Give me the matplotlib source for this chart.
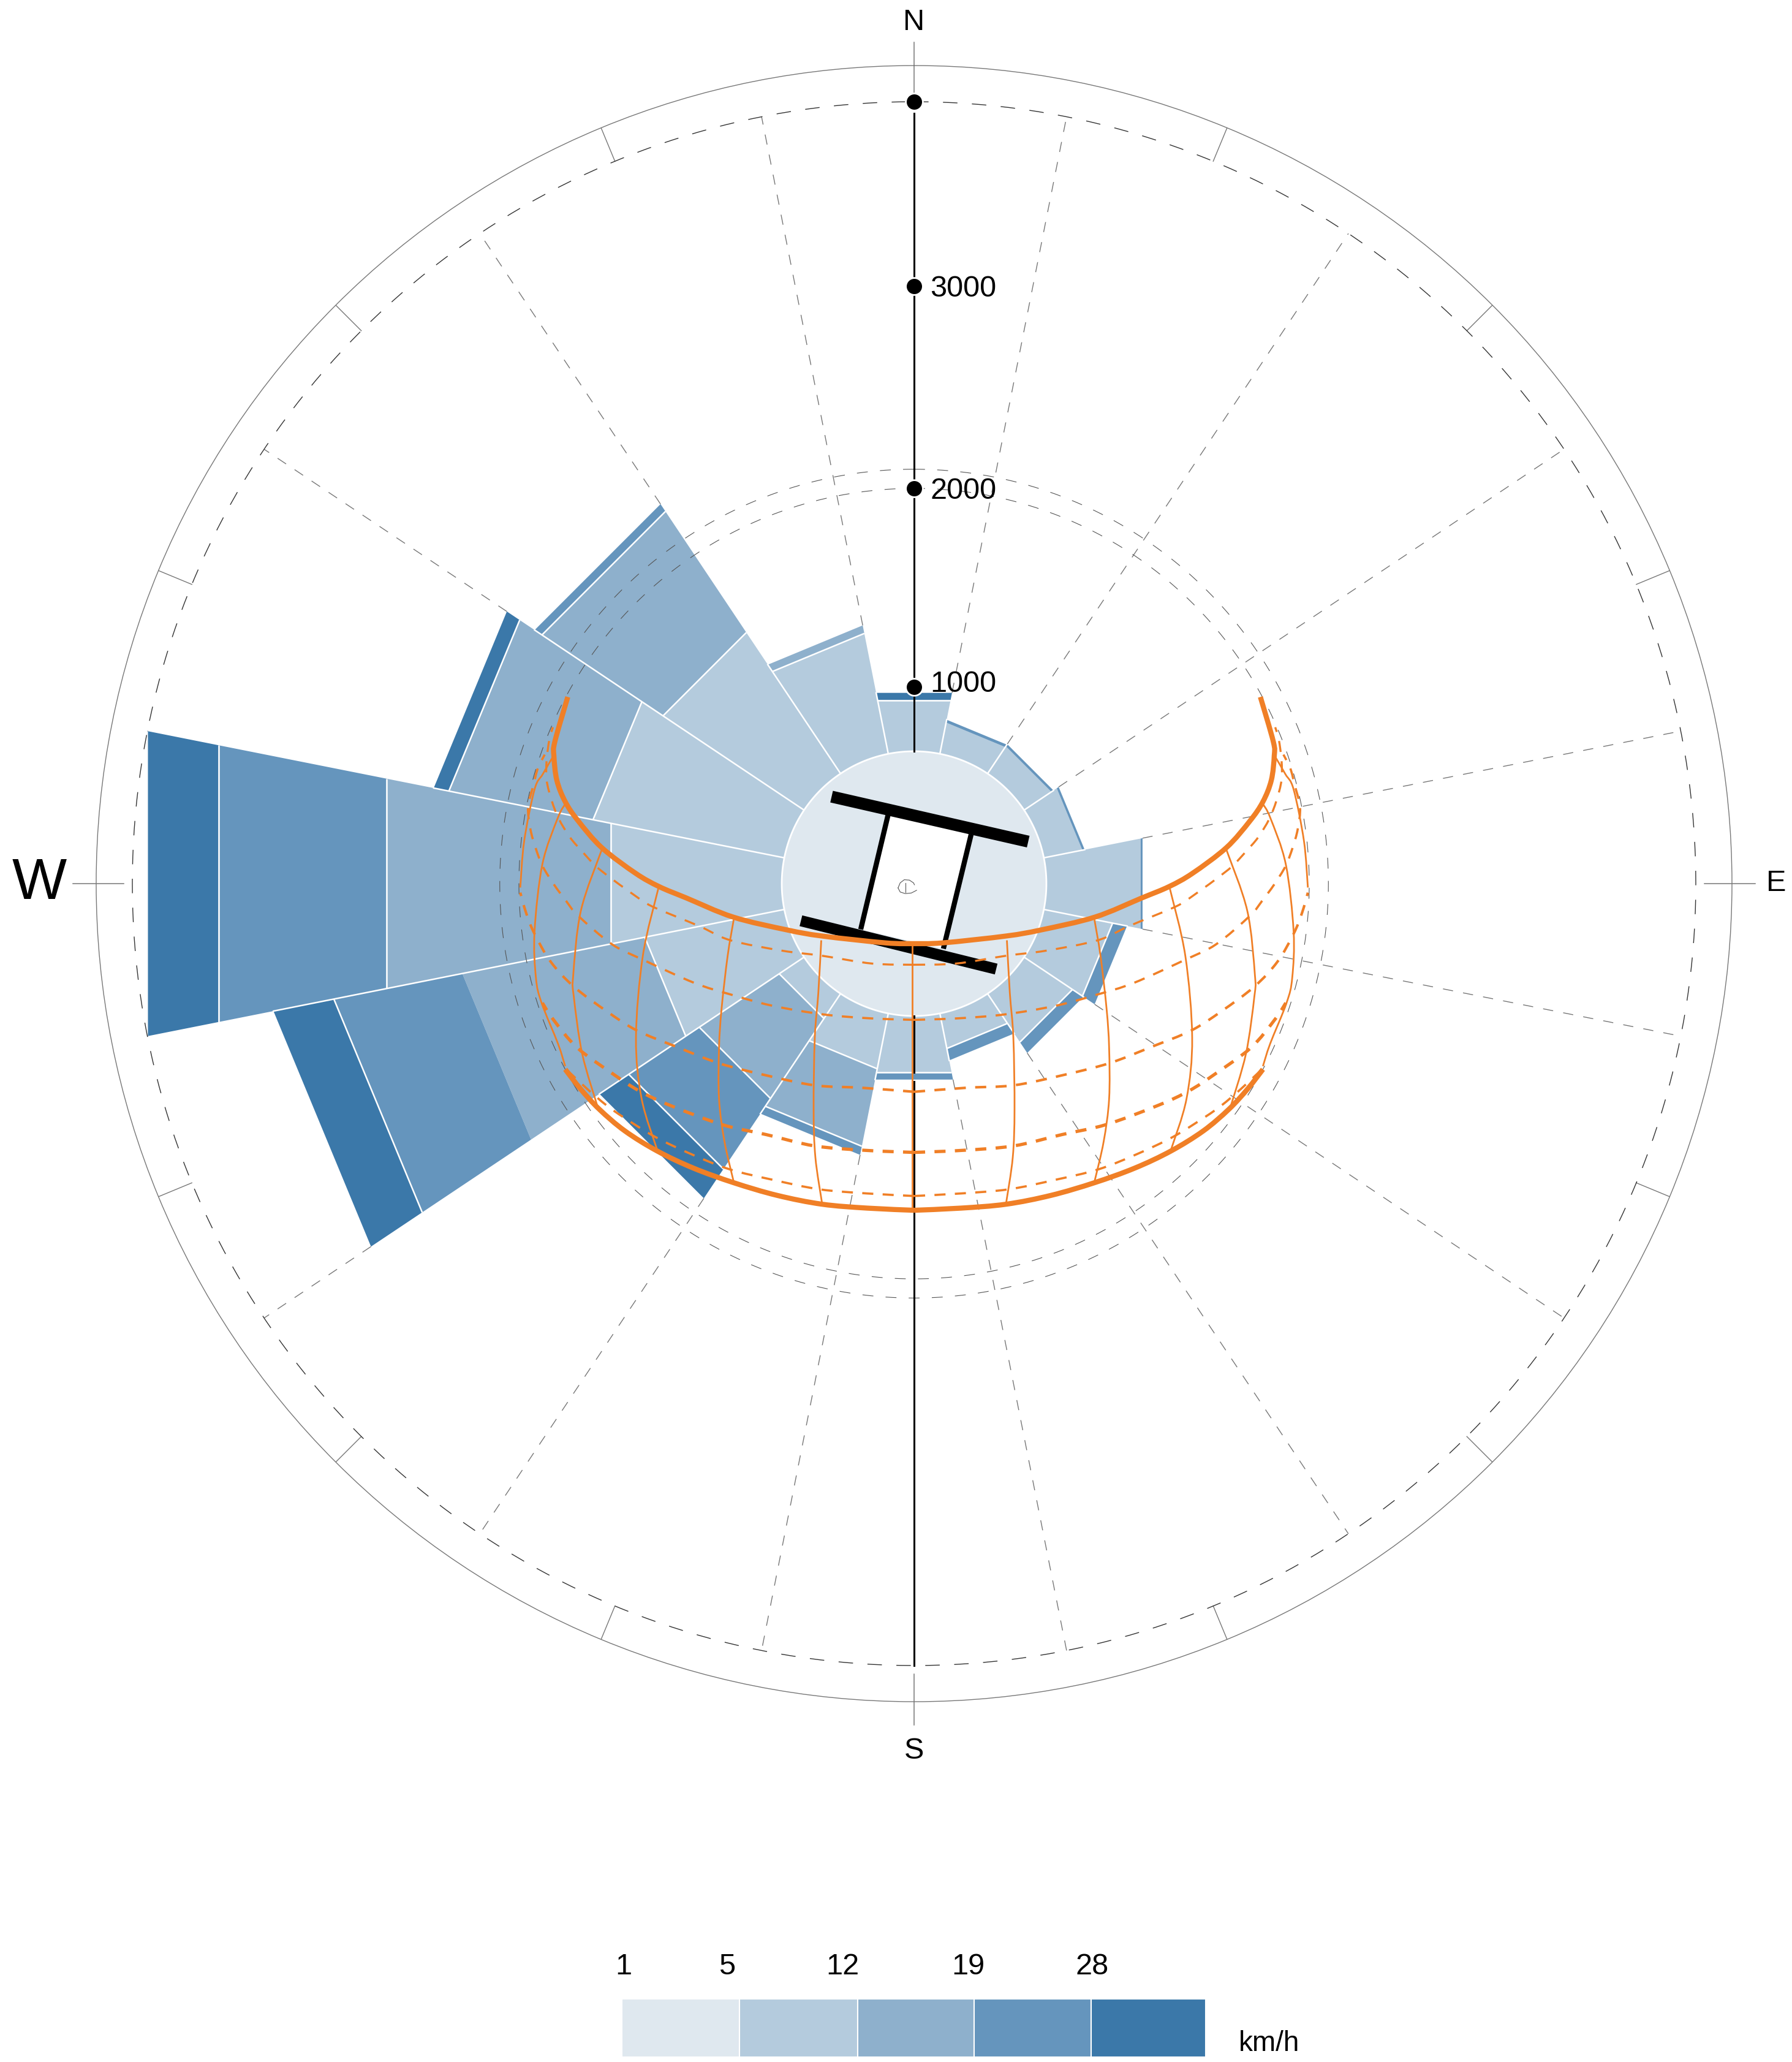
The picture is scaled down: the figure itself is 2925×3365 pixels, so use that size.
import numpy as np
from matplotlib import pyplot as plt
from matplotlib.path import Path
from matplotlib.patches import PathPatch

plt.rcParams['font.family'] = ['Liberation Sans', 'DejaVu Sans']

# wind rose, clockwise from north, length of each speed band per direction
band_1 = [957, 840, 845, 878, 1182, 1036, 975, 860, 985, 966, 830, 1405, 1583, 1675, 1545, 1305]
band_2 = [0, 0, 0, 0, 0, 0, 0, 0, 0, 404, 492, 952, 1170, 752, 745, 42]
band_3 = [0, 15, 13, 12, 10, 75, 67, 62, 37, 45, 434, 670, 876, 0, 45, 0]
band_4 = [38, 0, 0, 0, 0, 0, 0, 0, 0, 0, 180, 315, 368, 79, 0, 0]
calm_radius = 677

colors = ['#dfe8ef', '#b4cbdd', '#8eb0cc', '#6595bd', '#3b78a9']
speed_labels = ['1', '5', '12', '19', '28']
speed_unit = 'km/h'

radial_labels = ['1000', '2000', '3000']
radial_pos = [1006, 2022, 3056]
outer_ring = 4000
rings = [2022, 2120]

# sun path diagram, east half (east, north), the west half mirrors it
sun_top = [(0, -307), (148, -303), (471, -268), (649, -237), (926, -171), (1166, -73), (1305, -15),
           (1425, 53), (1598, 184), (1718, 320), (1785, 419), (1828, 529), (1843, 654), (1838, 727),
           (1772, 955)]
sun_bottom = [(0, -1671), (240, -1660), (471, -1640), (700, -1595), (923, -1530), (1130, -1455),
              (1314, -1368), (1480, -1265), (1611, -1154), (1707, -1050), (1785, -950)]
parallel_1 = [(0, -415), (214, -409), (471, -369), (675, -343), (939, -290), (1098, -218), (1322, -125),
              (1389, -88), (1472, -30), (1550, 27), (1629, 90), (1697, 163), (1760, 236), (1817, 330),
              (1854, 424), (1880, 529), (1880, 633), (1866, 738), (1848, 800)]
parallel_2 = [(0, -697), (227, -689), (464, -669), (728, -624), (939, -567), (1124, -508), (1388, -389),
              (1546, -310), (1718, -165), (1781, -88), (1843, -4), (1901, 90), (1937, 184), (1963, 278),
              (1975, 390), (1948, 503), (1925, 590), (1890, 660)]
parallel_3 = [(0, -1065), (273, -1044), (508, -1032), (756, -981), (998, -919), (1215, -835), (1419, -751),
              (1574, -652), (1741, -527), (1859, -400), (1942, -257), (1985, -150), (2015, -46)]
parallel_4 = [(0, -1375), (240, -1365), (508, -1342), (756, -1284), (985, -1232), (1252, -1133),
              (1407, -1060), (1537, -976), (1723, -840), (1847, -694), (1902, -610)]
parallel_5 = [(0, -1598), (240, -1585), (483, -1564), (719, -1516), (942, -1462), (1140, -1384),
              (1326, -1295), (1487, -1195), (1574, -1134), (1673, -1050), (1785, -945)]
meridian_0 = [(-10, -307), (-10, -1671)]
meridian_1 = [(475, -290), (490, -560), (508, -788), (514, -1154), (505, -1400), (471, -1634)]
meridian_2 = [(923, -185), (954, -370), (985, -640), (998, -840), (998, -1101), (970, -1320), (923, -1525)]
meridian_3 = [(1309, -26), (1388, -370), (1423, -788), (1394, -1101), (1314, -1363)]
meridian_4 = [(1599, 171), (1705, -139), (1744, -468), (1741, -579), (1698, -871), (1617, -1149)]
meridian_5 = [(1784, 409), (1823, 336), (1902, 99), (1942, -244), (1935, -481), (1906, -610), (1822, -819), (1785, -934)]
meridian_6 = [(1845, 654), (1900, 560), (1942, 482), (1995, 218), (2015, -20)]

# building plan, (east, north) ends
wall_top = [(-422, 445), (584, 215)]
wall_bottom = [(-579, -190), (420, -437)]
leg_left = [(-132, 356), (-273, -234)]
leg_right = [(292, 252), (150, -333)]
figure_marks = [[(-82, -22), (-71, 4), (-50, 20), (-24, 18), (-3, 4), (2, -6)],
                [(-82, -22), (-71, -43), (-45, -51), (-14, -48), (13, -34)],
                [(-45, 4), (-45, -43)]]


def to_polar(points, mirror=False):
    pts = np.array(points, dtype=float)
    e = -pts[:, 0] if mirror else pts[:, 0]
    return np.arctan2(e, pts[:, 1]), np.hypot(pts[:, 0], pts[:, 1])


def smooth_curve(ax, points, mirror, **kw):
    # bezier through the read points so the sun lines are not faceted
    pts = np.array(points, dtype=float)
    if mirror:
        pts[:, 0] = -pts[:, 0]
    verts = [pts[0]]
    codes = [Path.MOVETO]
    n = len(pts)
    for i in range(n - 1):
        p0 = pts[max(i - 1, 0)]
        p1 = pts[i]
        p2 = pts[i + 1]
        p3 = pts[min(i + 2, n - 1)]
        verts += [p1 + (p2 - p0) / 6, p2 - (p3 - p1) / 6, p2]
        codes += [Path.CURVE4] * 3
    verts = np.array(verts)
    polar = np.column_stack([np.arctan2(verts[:, 0], verts[:, 1]), np.hypot(verts[:, 0], verts[:, 1])])
    ax.add_patch(PathPatch(Path(polar, codes), fill=False, **kw))


W, H = 2925, 3365
fig = plt.figure(figsize=(W / 100, H / 100), dpi=100)
ax = fig.add_axes([157 / W, 1 - 2777 / H, 2670 / W, 2670 / H], projection='polar')
rmax = 4185
ax.set_theta_zero_location('N')
ax.set_theta_direction(-1)
ax.set_ylim(0, rmax)
ax.set_autoscale_on(False)
ax.grid(False)
ax.set_xticks([])
ax.set_yticks([])
ax.spines['polar'].set_color('#777777')
ax.spines['polar'].set_linewidth(1.0)

# wedges, white lines go on afterwards
step = np.deg2rad(22.5)
bands = np.array([band_1, band_2, band_3, band_4], dtype=float)
tops = bands.cumsum(axis=0)
totals = tops[-1]
for d in range(16):
    t0 = d * step - step / 2
    t1 = d * step + step / 2
    bottom = 0
    for b in range(4):
        if bands[b, d] == 0:
            continue
        ax.fill([t0, t1, t1, t0], [bottom, bottom, tops[b, d], tops[b, d]], facecolor=colors[b + 1],
                edgecolor='none', zorder=2)
        # no white line under a thin strip, nor inside the WSW wedge at 19
        above = bands[b + 1:, d]
        above = above[above > 0]
        if len(above) > 0 and above[0] >= 25 and not (d == 11 and b == 1):
            ax.plot([t0, t1], [tops[b, d], tops[b, d]], color='white', lw=1.8, solid_capstyle='butt', zorder=2.5)
        bottom = tops[b, d]
    side = min(totals[d], totals[(d + 1) % 16])
    ax.plot([t1, t1], [0, side], color='white', lw=1.8, zorder=2.5)

# spokes between sectors, from the taller neighbour out to the ring
for d in range(16):
    start = max(totals[d], totals[(d + 1) % 16])
    t = d * step + step / 2
    ax.plot([t, t], [start, outer_ring], color='#777777', lw=1.0, ls=(0, (12, 12)), zorder=1)

# sector ticks on the rim
for d in range(16):
    t = d * step
    if d % 4 == 0:
        ax.plot([t, t], [4045, 4305], color='#777777', lw=1.1, clip_on=False, zorder=1)
    else:
        ax.plot([t, t], [outer_ring, rmax], color='#777777', lw=1.0, zorder=1)

circle = np.linspace(0, 2 * np.pi, 721)
ax.plot(circle, np.full(721, outer_ring), color='#333333', lw=1.0, ls=(0, (17, 17)), zorder=3)
for r in rings:
    ax.plot(circle, np.full(721, r), color='#555555', lw=0.8, ls=(0, (16, 18)), zorder=3)

# calm circle and building
ax.fill(circle, np.full(721, calm_radius), facecolor=colors[0], edgecolor='white', linewidth=2, zorder=4)
corners = [leg_left[0], leg_right[0], leg_right[1], leg_left[1]]
t, r = to_polar(corners)
ax.fill(t, r, facecolor='white', edgecolor='none', zorder=5)
for wall, width in [(wall_top, 14), (wall_bottom, 13), (leg_left, 6), (leg_right, 6)]:
    t, r = to_polar(wall)
    ax.plot(t, r, color='black', lw=width, solid_capstyle='butt', zorder=6)
for mark in figure_marks:
    t, r = to_polar(mark)
    ax.plot(t, r, color='#555555', lw=0.8, zorder=6)

# north-south axis
ax.plot([0, 0], [calm_radius, 3940], color='black', lw=2.2, zorder=7)
ax.plot([np.pi, np.pi], [calm_radius, 965], color='black', lw=2.2, zorder=7)
ax.plot([np.pi, np.pi], [1012, outer_ring], color='black', lw=2.2, zorder=7)
ax.plot(np.zeros(len(radial_pos) + 1), radial_pos + [outer_ring], 'o', color='black', ms=20,
        markeredgecolor='white', markeredgewidth=2, zorder=8)
for lab, r, dy in zip(radial_labels, radial_pos, [3, -3, -3]):
    ax.annotate(lab, xy=(0, r), xytext=(19, dy), textcoords='offset points', fontsize=35, va='center', zorder=9)

ax.text(0, 4405, 'N', fontsize=35, ha='center', va='center', clip_on=False)
ax.text(np.pi, 4437, 'S', fontsize=35, ha='center', va='center', clip_on=False)
ax.text(np.pi / 2, 4412, 'E', fontsize=35, ha='center', va='center', clip_on=False)
ax.text(3 * np.pi / 2, 4476, 'W', fontsize=68, ha='center', va='center', clip_on=False)

# sun path
orange = '#f07f26'
for curve in [sun_top, sun_bottom]:
    for m in (False, True):
        smooth_curve(ax, curve, m, edgecolor=orange, lw=6, capstyle='butt', zorder=10)
for curve, width in [(parallel_1, 2.4), (parallel_2, 2.6), (parallel_3, 3.0), (parallel_4, 3.8), (parallel_5, 2.6)]:
    for m in (False, True):
        smooth_curve(ax, curve, m, edgecolor=orange, lw=width, ls=(0, (13 / width, 11 / width)), zorder=9)
t, r = to_polar(meridian_0)
ax.plot(t, r, color=orange, lw=2.0, zorder=9)
for curve in [meridian_1, meridian_2, meridian_3, meridian_4, meridian_5, meridian_6]:
    for m in (False, True):
        smooth_curve(ax, curve, m, edgecolor=orange, lw=2.0, zorder=9)

# speed legend
cell_edges = [1015, 1207, 1400, 1590, 1781, 1968]
label_x = [1018, 1187, 1375, 1580, 1783]
leg = fig.add_axes([1015 / W, 1 - 3357 / H, 953 / W, 95 / H])
leg.bar(cell_edges[:-1], [1] * 5, width=np.diff(cell_edges), align='edge', color=colors, edgecolor='white', linewidth=1.5)
leg.set_xlim(1015, 1968)
leg.set_ylim(0, 1)
leg.axis('off')
for x, lab in zip(label_x, speed_labels):
    leg.text(x, 1.55, lab, fontsize=35, ha='center', va='center')
leg.text(2022, 0, speed_unit, fontsize=33, ha='left', va='bottom', clip_on=False)

plt.savefig('out.png', dpi=100)
